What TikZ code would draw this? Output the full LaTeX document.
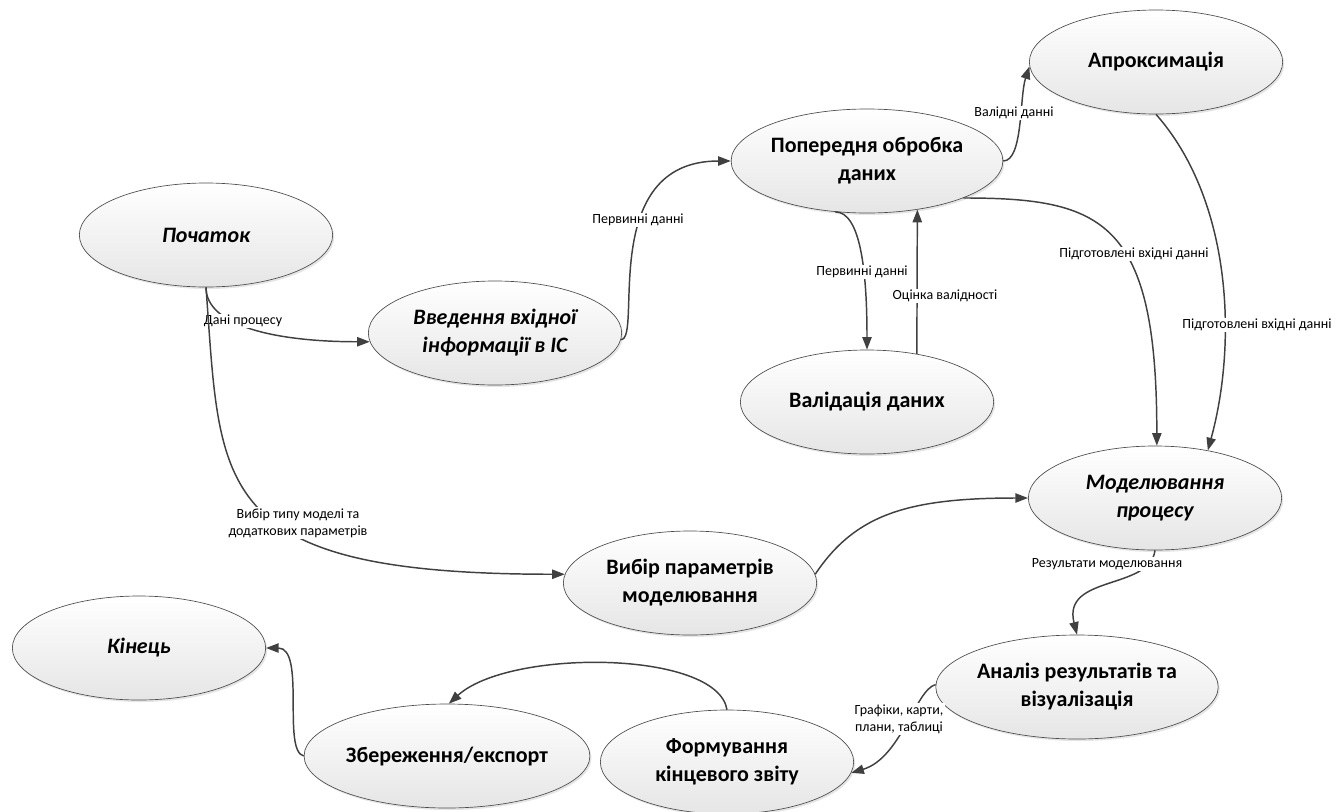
\documentclass[tikz,border=0pt]{standalone}
\usepackage{fontspec}
\setmainfont{Carlito}
\usepackage{tikz}
\usetikzlibrary{arrows.meta,positioning,shapes.geometric,shadows}

\begin{document}
\begin{tikzpicture}[x=0.75pt,y=-0.75pt,>={Triangle[length=9.5pt,width=7pt]},
   proc/.style={ellipse,draw=black!70,line width=0.5pt,top color=white,bottom color=black!10,
     minimum width=190pt,minimum height=78pt,inner sep=0pt,align=center,
     font=\fontsize{16.5}{21}\selectfont\bfseries,
     drop shadow={shadow xshift=1.2pt,shadow yshift=-1.5pt,fill=black!25,opacity=0.4}},
   term/.style={proc,font=\fontsize{16.5}{21}\selectfont\bfseries\itshape},
   flow/.style={->,draw=black!75,line width=1.1pt},
   lbl/.style={font=\fontsize{10.5}{13}\selectfont,fill=white,inner sep=1pt,align=center}]
  \useasboundingbox (0,0) rectangle (1338,811);
  \node[term] (start) at (206,235) {Початок};
  \node[term] (input) at (495,333) {Введення вхідної\\інформації в ІС};
  \node[proc] (prep) at (867,161) {Попередня обробка\\даних};
  \node[proc] (approx) at (1156,62) {Апроксимація};
  \node[proc] (valid) at (867,402) {Валідація даних};
  \node[term] (model) at (1155,498) {Моделювання\\процесу};
  \node[proc] (param) at (690,583) {Вибір параметрів\\моделювання};
  \node[proc] (analys) at (1077,687) {Аналіз результатів та\\візуалізація};
  \node[term] (finish) at (139,648) {Кінець};
  \node[proc] (save) at (447,756) {Збереження/експорт};
  \node[proc] (report) at (727,762) {Формування\\кінцевого звіту};
  \draw[flow] (start.south) .. controls +(0,40) and +(-90,0) .. (input.184);
  \node[lbl] (l1) at (243,321) {Дані процесу};
  \draw[flow] (start.south) .. controls +(15,200) and +(-356,0) .. (param.176);
  \draw[flow] (input.-3) .. controls +(22,0) and +(-134,0) .. (prep.west);
  \draw[flow] (prep.east) .. controls +(20,0) and +(-10,30) .. (approx.182);
  \draw[flow] (prep.238) .. controls +(25,0) and +(0,-80) .. (valid.north);
  \draw[flow] (valid.44) -- (prep.-44);
  \draw[flow] (prep.-21) .. controls +(140,0) and +(0,-225) .. (model.88);
  \draw[flow] (approx.south) .. controls +(75,85) and +(30,-110) .. (model.42);
  \draw[flow] (param.4) .. controls +(40,-60) and +(-120,0) .. (model.west);
  \draw[flow] (model.south) .. controls +(-5,40) and +(-15,-60) .. (analys.north);
  \draw[flow] (analys.179) .. controls +(-20,5) and +(50,-15) .. (report.-5);
  \draw[flow] (report.north) .. controls +(-10,-60) and +(60,-55) .. (save.88);
  \draw[flow] (save.west) .. controls +(-22,-5) and +(40,0) .. (finish.east);
  \node[lbl] (l2) at (638,220) {Первинні данні};
  \node[lbl] (l3) at (1014,113) {Валідні данні};
  \node[lbl] (l4) at (862,272) {Первинні данні};
  \node[lbl] (l5) at (945,296) {Оцінка валідності};
  \node[lbl] (l6) at (1134,254) {Підготовлені вхідні данні};
  \node[lbl] (l7) at (1257,325) {Підготовлені вхідні данні};
  \node[lbl] (l8) at (298,523) {Вибір типу моделі та\\додаткових параметрів};
  \node[lbl] (l9) at (1107,564) {Результати моделювання};
  \node[lbl] (l10) at (899,719) {Графіки, карти,\\плани, таблиці};
\end{tikzpicture}
\end{document}
